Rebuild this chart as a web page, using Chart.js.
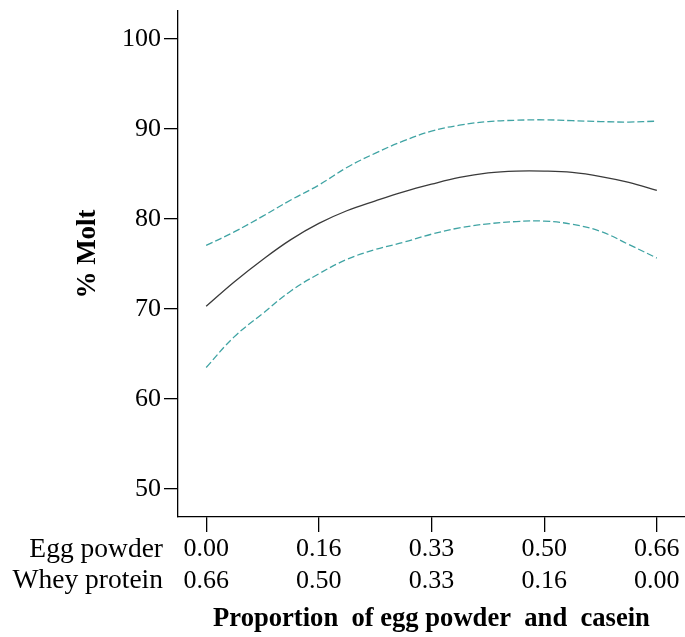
<!DOCTYPE html>
<html>
<head>
<meta charset="utf-8">
<script src="https://cdn.jsdelivr.net/npm/chart.js@4"></script>
<style>
  html, body { margin: 0; padding: 0; background: #fff; }
  canvas { display: block; }
</style>
</head>
<body>
<canvas id="myChart" width="685" height="637"></canvas>
<script>
// proportion of egg powder along the x axis (sample points)
const eggProp = [0.000, 0.041, 0.083, 0.124, 0.165, 0.206, 0.248, 0.289, 0.330,
                 0.371, 0.413, 0.454, 0.495, 0.536, 0.578, 0.619, 0.660];
// fitted % molt
const moltFit = [70.3, 73.0, 75.5, 77.7, 79.5, 80.9, 82.0, 83.0, 83.85,
                 84.6, 85.1, 85.3, 85.3, 85.15, 84.7, 84.05, 83.15];
// upper / lower confidence band
const moltUpper = [77.05, 78.55, 80.3, 82.1, 83.75, 85.7, 87.3, 88.65, 89.75,
                   90.4, 90.8, 90.95, 91.0, 90.9, 90.8, 90.75, 90.85];
const moltLower = [63.5, 66.9, 69.5, 72.0, 73.9, 75.5, 76.6, 77.4, 78.3,
                   79.0, 79.45, 79.7, 79.75, 79.4, 78.6, 77.15, 75.65];

// tick labels (two rows under the x axis)
const tickPos = [0, 0.165, 0.33, 0.495, 0.66];
const eggLabels = ['0.00', '0.16', '0.33', '0.50', '0.66'];
const wheyLabels = ['0.66', '0.50', '0.33', '0.16', '0.00'];
const rowNames = ['Egg powder', 'Whey protein'];
const yTicks = [50, 60, 70, 80, 90, 100];

const serif = "'Liberation Serif', 'Times New Roman', serif";
Chart.defaults.font.family = serif;
Chart.defaults.color = '#000';

const teal = 'rgb(64,164,164)';

function pts(ys) {
  return eggProp.map((x, i) => ({ x: x, y: ys[i] }));
}

// row names left of the x tick labels, and the rotated y title
const extraText = {
  id: 'extraText',
  afterDraw(chart) {
    const c = chart.ctx;
    const xs = chart.scales.x;
    const lh = 26 * 1.2;
    const y0 = xs.top + 15 + 2 + lh / 2;
    c.save();
    c.fillStyle = '#000';
    c.font = '27.5px ' + serif;
    c.textAlign = 'right';
    c.textBaseline = 'middle';
    rowNames.forEach((t, i) => c.fillText(t, 163, y0 + i * lh));

    c.translate(88, 254);
    c.rotate(-Math.PI / 2);
    c.textAlign = 'center';
    c.font = 'bold 27px ' + serif;
    c.fillText('% Molt', 0, 0);
    c.restore();
  }
};

const ctx = document.getElementById('myChart');
const chart = new Chart(ctx, {
  type: 'line',
  data: {
    datasets: [
      {
        label: 'Upper',
        data: pts(moltUpper),
        borderColor: teal,
        borderWidth: 1.3,
        borderDash: [7, 3],
        pointRadius: 0,
        tension: 0.4
      },
      {
        label: 'Fit',
        data: pts(moltFit),
        borderColor: '#3a3a3a',
        borderWidth: 1.3,
        pointRadius: 0,
        tension: 0.4
      },
      {
        label: 'Lower',
        data: pts(moltLower),
        borderColor: teal,
        borderWidth: 1.3,
        borderDash: [7, 3],
        pointRadius: 0,
        tension: 0.4
      }
    ]
  },
  options: {
    responsive: false,
    animation: false,
    devicePixelRatio: 1,
    layout: { padding: { top: 2, left: 0, right: 0, bottom: 0 } },
    plugins: {
      legend: { display: false },
      tooltip: { enabled: false }
    },
    scales: {
      x: {
        type: 'linear',
        min: -0.04125,
        max: 0.70125,
        afterBuildTicks: (scale) => {
          scale.ticks = tickPos.map(v => ({ value: v }));
        },
        afterFit: (scale) => { scale.height = 120; },
        ticks: {
          autoSkip: false,
          maxRotation: 0,
          padding: 2,
          font: { size: 26, lineHeight: 1.2 },
          callback: (value, i) => [eggLabels[i], wheyLabels[i]]
        },
        grid: {
          drawOnChartArea: false,
          drawTicks: true,
          tickLength: 15,
          color: '#000',
          lineWidth: 1.3
        },
        border: { color: '#000', width: 1.3 },
        title: {
          display: true,
          text: 'Proportion  of egg powder  and  casein',
          font: { size: 26.6, weight: 'bold', lineHeight: 1.2 },
          padding: { top: 0, bottom: 2 }
        }
      },
      y: {
        min: 46.9,
        max: 103.1,
        afterBuildTicks: (scale) => {
          scale.ticks = yTicks.map(v => ({ value: v }));
        },
        afterFit: (scale) => { scale.width = 178; },
        ticks: {
          padding: 3,
          font: { size: 26, lineHeight: 0.6 }
        },
        grid: {
          drawOnChartArea: false,
          drawTicks: true,
          tickLength: 14,
          color: '#000',
          lineWidth: 1.3
        },
        border: { color: '#000', width: 1.3 }
      }
    }
  },
  plugins: [extraText]
});
</script>
</body>
</html>
